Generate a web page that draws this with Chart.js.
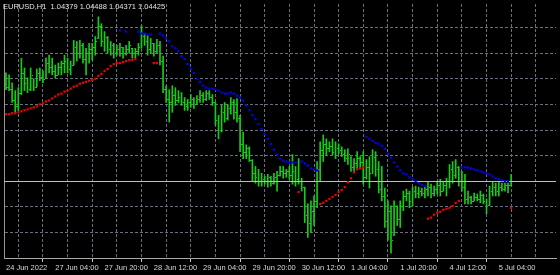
<!DOCTYPE html>
<html>
<head>
<meta charset="utf-8">
<title>EURUSD,H1</title>
<script src="https://cdn.jsdelivr.net/npm/chart.js@4.4.0/dist/chart.umd.min.js"></script>
<style>
  html, body { margin: 0; padding: 0; background: #000; }
  #wrap { width: 560px; height: 275px; }
</style>
</head>
<body>
<div id="wrap"><canvas id="mycanvas" width="560" height="275"></canvas></div>
<script>
var symbol = 'EURUSD';
var period = 'H1';
var N = null;

// hourly bars, 24 Jun 2022 12:00 .. 5 Jul 2022 08:00
var opens = [
  1.0542,1.0538,1.0536,1.0524,1.0518,1.0532,1.0552,1.0542,1.0536,1.0546,
  1.0538,1.0552,1.0548,1.0547,1.0562,1.0558,1.0554,1.0550,1.0558,1.0562,
  1.0564,1.0556,1.0560,1.0578,1.0572,1.0580,1.0566,1.0572,1.0576,1.0578,
  1.0587,1.0600,1.0584,1.0588,1.0576,1.0580,1.0572,1.0576,1.0578,1.0572,
  1.0576,1.0577,
  1.0572,1.0574,1.0578,1.0590,1.0584,1.0576,1.0582,1.0574,1.0580,1.0564,
  1.0536,1.0526,1.0522,1.0530,1.0524,1.0528,1.0522,1.0518,1.0522,1.0526,
  1.0520,1.0526,1.0530,1.0526,1.0532,1.0528,1.0522,1.0504,1.0494,1.0512,
  1.0506,1.0516,1.0522,1.0512,1.0506,1.0480,1.0472,1.0476,1.0464,1.0450,
  1.0446,1.0442,1.0444,1.0442,1.0446,1.0440,1.0446,1.0448,1.0452,1.0450,
  1.0452,1.0448,1.0452,1.0444,1.0442,1.0436,1.0408,1.0400,1.0412,1.0422,
  1.0454,1.0474,1.0480,1.0476,1.0478,1.0472,1.0476,1.0474,1.0470,1.0466,
  1.0467,1.0456,1.0460,1.0466,1.0462,1.0446,1.0456,1.0450,1.0467,1.0454,
  1.0434,1.0427,1.0402,1.0412,1.0387,1.0417,1.0404,1.0417,1.0427,1.0430,
  1.0422,1.0432,1.0430,1.0432,1.0430,1.0434,1.0436,1.0430,1.0434,1.0438,
  1.0432,1.0438,1.0442,1.0454,1.0448,1.0456,1.0442,1.0436,1.0424,1.0426,
  1.0422,1.0426,1.0424,1.0428,1.0422,1.0418,1.0432,1.0436,1.0432,1.0436,
  1.0434,1.0438,1.04379
];
var highs = [
  1.0552,1.0550,1.0542,1.0534,1.0537,1.0567,1.0557,1.0547,1.0557,1.0546,
  1.0556,1.0557,1.0554,1.0567,1.0570,1.0567,1.0560,1.0562,1.0564,1.0570,
  1.0567,1.0564,1.0585,1.0584,1.0585,1.0582,1.0577,1.0582,1.0582,1.0589,
  1.0609,1.0602,1.0594,1.0589,1.0584,1.0582,1.0580,1.0582,1.0578,1.0580,
  1.0584,1.0577,
  1.0577,1.0582,1.0600,1.0592,1.0590,1.0587,1.0582,1.0586,1.0584,1.0569,
  1.0539,1.0535,1.0539,1.0537,1.0534,1.0532,1.0527,1.0525,1.0530,1.0527,
  1.0529,1.0534,1.0532,1.0534,1.0534,1.0530,1.0522,1.0509,1.0519,1.0522,
  1.0520,1.0527,1.0525,1.0526,1.0509,1.0492,1.0479,1.0477,1.0464,1.0457,
  1.0454,1.0450,1.0447,1.0449,1.0447,1.0450,1.0452,1.0457,1.0457,1.0454,
  1.0457,1.0469,1.0457,1.0465,1.0445,1.0436,1.0419,1.0422,1.0427,1.0462,
  1.0482,1.0489,1.0485,1.0482,1.0485,1.0482,1.0480,1.0477,1.0474,1.0475,
  1.0467,1.0465,1.0472,1.0467,1.0472,1.0464,1.0467,1.0474,1.0472,1.0462,
  1.0457,1.0435,1.0422,1.0417,1.0422,1.0417,1.0422,1.0432,1.0434,1.0432,
  1.0436,1.0437,1.0436,1.0435,1.0436,1.0442,1.0439,1.0437,1.0442,1.0444,
  1.0442,1.0445,1.0459,1.0462,1.0464,1.0457,1.0452,1.0449,1.0432,1.0427,
  1.0430,1.0429,1.0432,1.0429,1.0424,1.0437,1.0441,1.0440,1.0441,1.0440,
  1.0440,1.0440,1.04488
];
var lows = [
  1.0535,1.0534,1.0522,1.0512,1.0514,1.0530,1.0534,1.0532,1.0534,1.0534,
  1.0538,1.0544,1.0542,1.0547,1.0552,1.0550,1.0547,1.0550,1.0550,1.0552,
  1.0552,1.0550,1.0560,1.0564,1.0567,1.0562,1.0550,1.0562,1.0565,1.0570,
  1.0587,1.0579,1.0574,1.0572,1.0570,1.0567,1.0570,1.0569,1.0567,1.0570,
  1.0572,1.0567,
  1.0567,1.0570,1.0577,1.0580,1.0570,1.0572,1.0569,1.0572,1.0560,1.0532,
  1.0522,1.0502,1.0512,1.0519,1.0522,1.0519,1.0514,1.0514,1.0517,1.0516,
  1.0520,1.0522,1.0522,1.0524,1.0525,1.0519,1.0499,1.0485,1.0492,1.0502,
  1.0504,1.0510,1.0505,1.0502,1.0472,1.0465,1.0465,1.0462,1.0442,1.0440,
  1.0437,1.0437,1.0439,1.0436,1.0437,1.0439,1.0432,1.0447,1.0445,1.0446,
  1.0444,1.0439,1.0437,1.0439,1.0432,1.0400,1.0385,1.0390,1.0397,1.0415,
  1.0442,1.0462,1.0469,1.0472,1.0469,1.0465,1.0470,1.0467,1.0462,1.0459,
  1.0452,1.0452,1.0455,1.0456,1.0439,1.0444,1.0435,1.0450,1.0447,1.0430,
  1.0422,1.0395,1.0382,1.0369,1.0387,1.0397,1.0395,1.0412,1.0422,1.0415,
  1.0417,1.0425,1.0425,1.0427,1.0425,1.0427,1.0425,1.0427,1.0429,1.0427,
  1.0432,1.0427,1.0435,1.0440,1.0445,1.0437,1.0432,1.0419,1.0419,1.0419,
  1.0422,1.0422,1.0420,1.0419,1.0409,1.0418,1.0427,1.0427,1.0427,1.0432,
  1.0432,1.0430,1.04371
];
var closes = [
  1.0538,1.0536,1.0524,1.0518,1.0532,1.0552,1.0542,1.0536,1.0550,1.0538,
  1.0552,1.0548,1.0546,1.0562,1.0558,1.0554,1.0550,1.0558,1.0562,1.0564,
  1.0556,1.0560,1.0578,1.0572,1.0580,1.0566,1.0572,1.0576,1.0578,1.0584,
  1.0600,1.0584,1.0588,1.0576,1.0580,1.0572,1.0576,1.0578,1.0572,1.0576,
  1.0580,1.0572,
  1.0574,1.0578,1.0590,1.0584,1.0576,1.0582,1.0574,1.0580,1.0564,1.0536,
  1.0526,1.0522,1.0530,1.0524,1.0528,1.0522,1.0518,1.0522,1.0526,1.0520,
  1.0526,1.0530,1.0526,1.0532,1.0528,1.0522,1.0504,1.0494,1.0512,1.0506,
  1.0516,1.0522,1.0512,1.0506,1.0480,1.0472,1.0476,1.0464,1.0450,1.0446,
  1.0442,1.0444,1.0442,1.0446,1.0440,1.0446,1.0448,1.0452,1.0450,1.0452,
  1.0448,1.0452,1.0444,1.0442,1.0436,1.0408,1.0400,1.0412,1.0422,1.0454,
  1.0474,1.0480,1.0476,1.0478,1.0472,1.0476,1.0474,1.0470,1.0466,1.0470,
  1.0456,1.0460,1.0466,1.0462,1.0446,1.0456,1.0450,1.0467,1.0454,1.0434,
  1.0427,1.0402,1.0412,1.0382,1.0417,1.0404,1.0417,1.0427,1.0430,1.0422,
  1.0432,1.0430,1.0432,1.0430,1.0434,1.0436,1.0430,1.0434,1.0438,1.0432,
  1.0438,1.0442,1.0454,1.0448,1.0456,1.0442,1.0436,1.0424,1.0426,1.0422,
  1.0426,1.0424,1.0428,1.0422,1.0418,1.0432,1.0436,1.0432,1.0436,1.0434,
  1.0438,1.0438,1.04425
];

// parabolic SAR dots: red under price, blue over price
var sarBelow = [
  1.0510,1.0510,1.0511,1.0511,1.0512,1.0513,1.0514,1.0515,1.0516,1.0517,
  1.0518,1.0520,1.0521,1.0523,1.0524,1.0526,1.0528,1.0530,1.0531,1.0533,
  1.0534,1.0536,1.0538,1.0539,1.0541,1.0542,1.0543,1.0544,1.0545,1.0546,
  1.0549,1.0551,1.0554,1.0556,1.0559,1.0561,1.0562,1.0562,1.0563,1.0564,
  1.0565,1.0565,1.0566,
  N,N,N,N,N,
  1.0562,1.0562,
  N,N,N,N,N,N,N,N,N,N, N,N,N,N,N,N,N,N,N,N, N,N,N,N,N,N,N,N,N,N, N,N,N,N,N,N,N,N,N,N, N,N,N,N,N,
  1.0431,
  N,N,N,N,N,N,
  1.0419,1.0420,1.0422,1.0424,1.0426,1.0428,1.0431,1.0433,1.0436,1.0441,1.0445,1.0451,1.0454,1.0455,1.0456,
  N,N,N,N,N,N,N,N,N,N, N,N,N,N,N,N,N,N,N,N,
  1.0404,1.0405,1.0408,1.0410,1.0411,1.0413,1.0414,1.0415,1.0417,1.0420,1.0422,
  N,N,N,N,N,N,N,N,N,N, N,N,N,N,N,N,
  1.0415
];
var sarAbove = [
  N,N,N,N,N,N,N,N,N,N, N,N,N,N,N,N,N,N,N,N, N,N,N,N,N,N,N,N,N,N, N,N,N,N,N,N,N,
  1.0595,N,1.0594,N,N,N,
  1.0594,1.0592,1.0592,1.0591,1.0591,
  N,N,
  1.0592,1.0590,1.0587,1.0584,1.0579,1.0577,1.0574,1.0569,1.0566,1.0561,
  1.0556,1.0552,1.0546,1.0543,1.0539,1.0537,1.0536,1.0536,1.0535,1.0534,
  1.0532,1.0531,1.0531,1.0532,1.0531,1.0529,1.0527,1.0524,1.0519,1.0514,
  1.0509,1.0505,1.0500,1.0495,1.0490,1.0485,1.0480,1.0474,1.0469,1.0465,
  1.0463,1.0462,1.0461,1.0461,1.0461,
  N,
  1.0462,1.0460,1.0458,1.0455,1.0454,1.0453,
  N,N,N,N,N,N,N,N,N,N, N,N,N,N,N,
  1.0487,1.0485,1.0483,1.0481,1.0480,1.0478,1.0475,1.0470,1.0466,1.0461,
  1.0457,1.0453,1.0450,1.0449,1.0446,1.0444,1.0442,1.0440,1.0438,1.0437,
  N,N,N,N,N,N,N,N,N,N, N,
  1.0456,1.0456,1.0456,1.0455,1.0454,1.0453,1.0452,1.0451,1.0450,1.0449,
  1.0447,1.0445,1.0444,1.0443,1.0442,1.0442,
  N
];

// time labels, one every 16 bars starting at bar 0
var timeLabels = ['24 Jun 2022', '27 Jun 04:00', '27 Jun 20:00', '28 Jun 12:00', '29 Jun 04:00',
  '29 Jun 20:00', '30 Jun 12:00', '1 Jul 04:00', '1 Jul 20:00', '4 Jul 12:00', '5 Jul 04:00'];
var labelEvery = 16;
var gridEvery = 8;
var priceGrid = [1.0364, 1.0390, 1.0416, 1.0442, 1.0468, 1.0494, 1.0520, 1.0546, 1.0572, 1.0598];

var green = 'rgb(20,205,20)';
var gridColor = 'rgb(105,112,125)';

var barData = [], redData = [], blueData = [];
for (var i = 0; i < closes.length; i++) {
  barData.push({x: i, y: [lows[i], highs[i]]});
  if (sarBelow[i] !== null) redData.push({x: i, y: sarBelow[i]});
  if (sarAbove[i] !== null) blueData.push({x: i, y: sarAbove[i]});
}
var last = closes.length - 1;

// open / close ticks of each bar, bid line and header text
var mtPlugin = {
  id: 'mt',
  afterDatasetDraw: function(chart, args) {
    if (args.index !== 0) return;
    var ctx = chart.ctx, xs = chart.scales.x, ys = chart.scales.y;
    ctx.save();
    ctx.fillStyle = green;
    for (var i = 0; i < closes.length; i++) {
      var xc = Math.round(xs.getPixelForValue(i));
      ctx.fillRect(xc - 1, Math.round(ys.getPixelForValue(opens[i])), 1, 1);
      ctx.fillRect(xc + 1, Math.round(ys.getPixelForValue(closes[i])), 1, 1);
    }
    var yb = Math.round(ys.getPixelForValue(closes[last])) + 0.5;
    ctx.strokeStyle = 'rgb(185,190,196)';
    ctx.lineWidth = 1;
    ctx.beginPath();
    ctx.moveTo(chart.chartArea.left, yb);
    ctx.lineTo(chart.chartArea.right, yb);
    ctx.stroke();
    ctx.restore();
  },
  afterDraw: function(chart) {
    var ctx = chart.ctx;
    var head = symbol + ',' + period + '  ' + opens[last].toFixed(5) + ' ' + highs[last].toFixed(5) + ' ' +
      lows[last].toFixed(5) + ' ' + closes[last].toFixed(5);
    ctx.save();
    ctx.font = '7.5px "Liberation Sans", Arial, sans-serif';
    ctx.fillStyle = 'rgb(225,225,225)';
    ctx.textBaseline = 'alphabetic';
    ctx.fillText(head, 3, 9);
    ctx.restore();
  }
};

var ctx = document.getElementById('mycanvas');
var chart = new Chart(ctx, {
  type: 'bar',
  data: {
    datasets: [
      {
        type: 'bar', data: barData, backgroundColor: green, barThickness: 1,
        borderWidth: 0, borderSkipped: false, order: 3
      },
      {
        type: 'line', data: redData, showLine: false, pointStyle: 'rect', pointRadius: 1.6,
        pointBackgroundColor: 'rgb(235,0,0)', pointBorderWidth: 0, order: 1
      },
      {
        type: 'line', data: blueData, showLine: false, pointStyle: 'rect', pointRadius: 1.6,
        pointBackgroundColor: 'rgb(0,0,245)', pointBorderWidth: 0, order: 2
      }
    ]
  },
  options: {
    responsive: false,
    animation: false,
    layout: {padding: 0},
    plugins: {legend: {display: false}, tooltip: {enabled: false}, title: {display: false}},
    scales: {
      x: {
        type: 'linear', min: -0.64, max: 178.56, offset: false,
        afterBuildTicks: function(scale) {
          var t = [];
          for (var v = 0; v <= 176; v += gridEvery) t.push({value: v});
          scale.ticks = t;
        },
        afterFit: function(scale) { scale.height = 17; },
        ticks: {
          autoSkip: false, maxRotation: 0, minRotation: 0, align: 'start', padding: 1,
          color: 'rgb(215,215,215)', font: {family: '"Liberation Sans", Arial, sans-serif', size: 7.5},
          callback: function(value) {
            if (value % labelEvery !== 0) return '';
            return timeLabels[value / labelEvery] || '';
          }
        },
        grid: {
          color: gridColor, lineWidth: 1, drawTicks: true, tickLength: 4,
          tickColor: function(c) {
            return c.tick && c.tick.value % labelEvery === 0 && c.tick.value / labelEvery < timeLabels.length ? 'rgb(200,200,200)' : 'rgba(0,0,0,0)';
          }
        },
        border: {display: true, color: 'rgb(170,170,170)', dash: [3, 2]}
      },
      y: {
        type: 'linear', min: 1.0364, max: 1.0622,
        afterBuildTicks: function(scale) {
          scale.ticks = priceGrid.map(function(v) { return {value: v}; });
        },
        afterFit: function(scale) { scale.width = 0; },
        ticks: {display: false},
        grid: {color: gridColor, lineWidth: 1, drawTicks: false},
        border: {display: true, color: 'rgb(150,150,150)', dash: [3, 2]}
      }
    }
  },
  plugins: [mtPlugin]
});
</script>
</body>
</html>
